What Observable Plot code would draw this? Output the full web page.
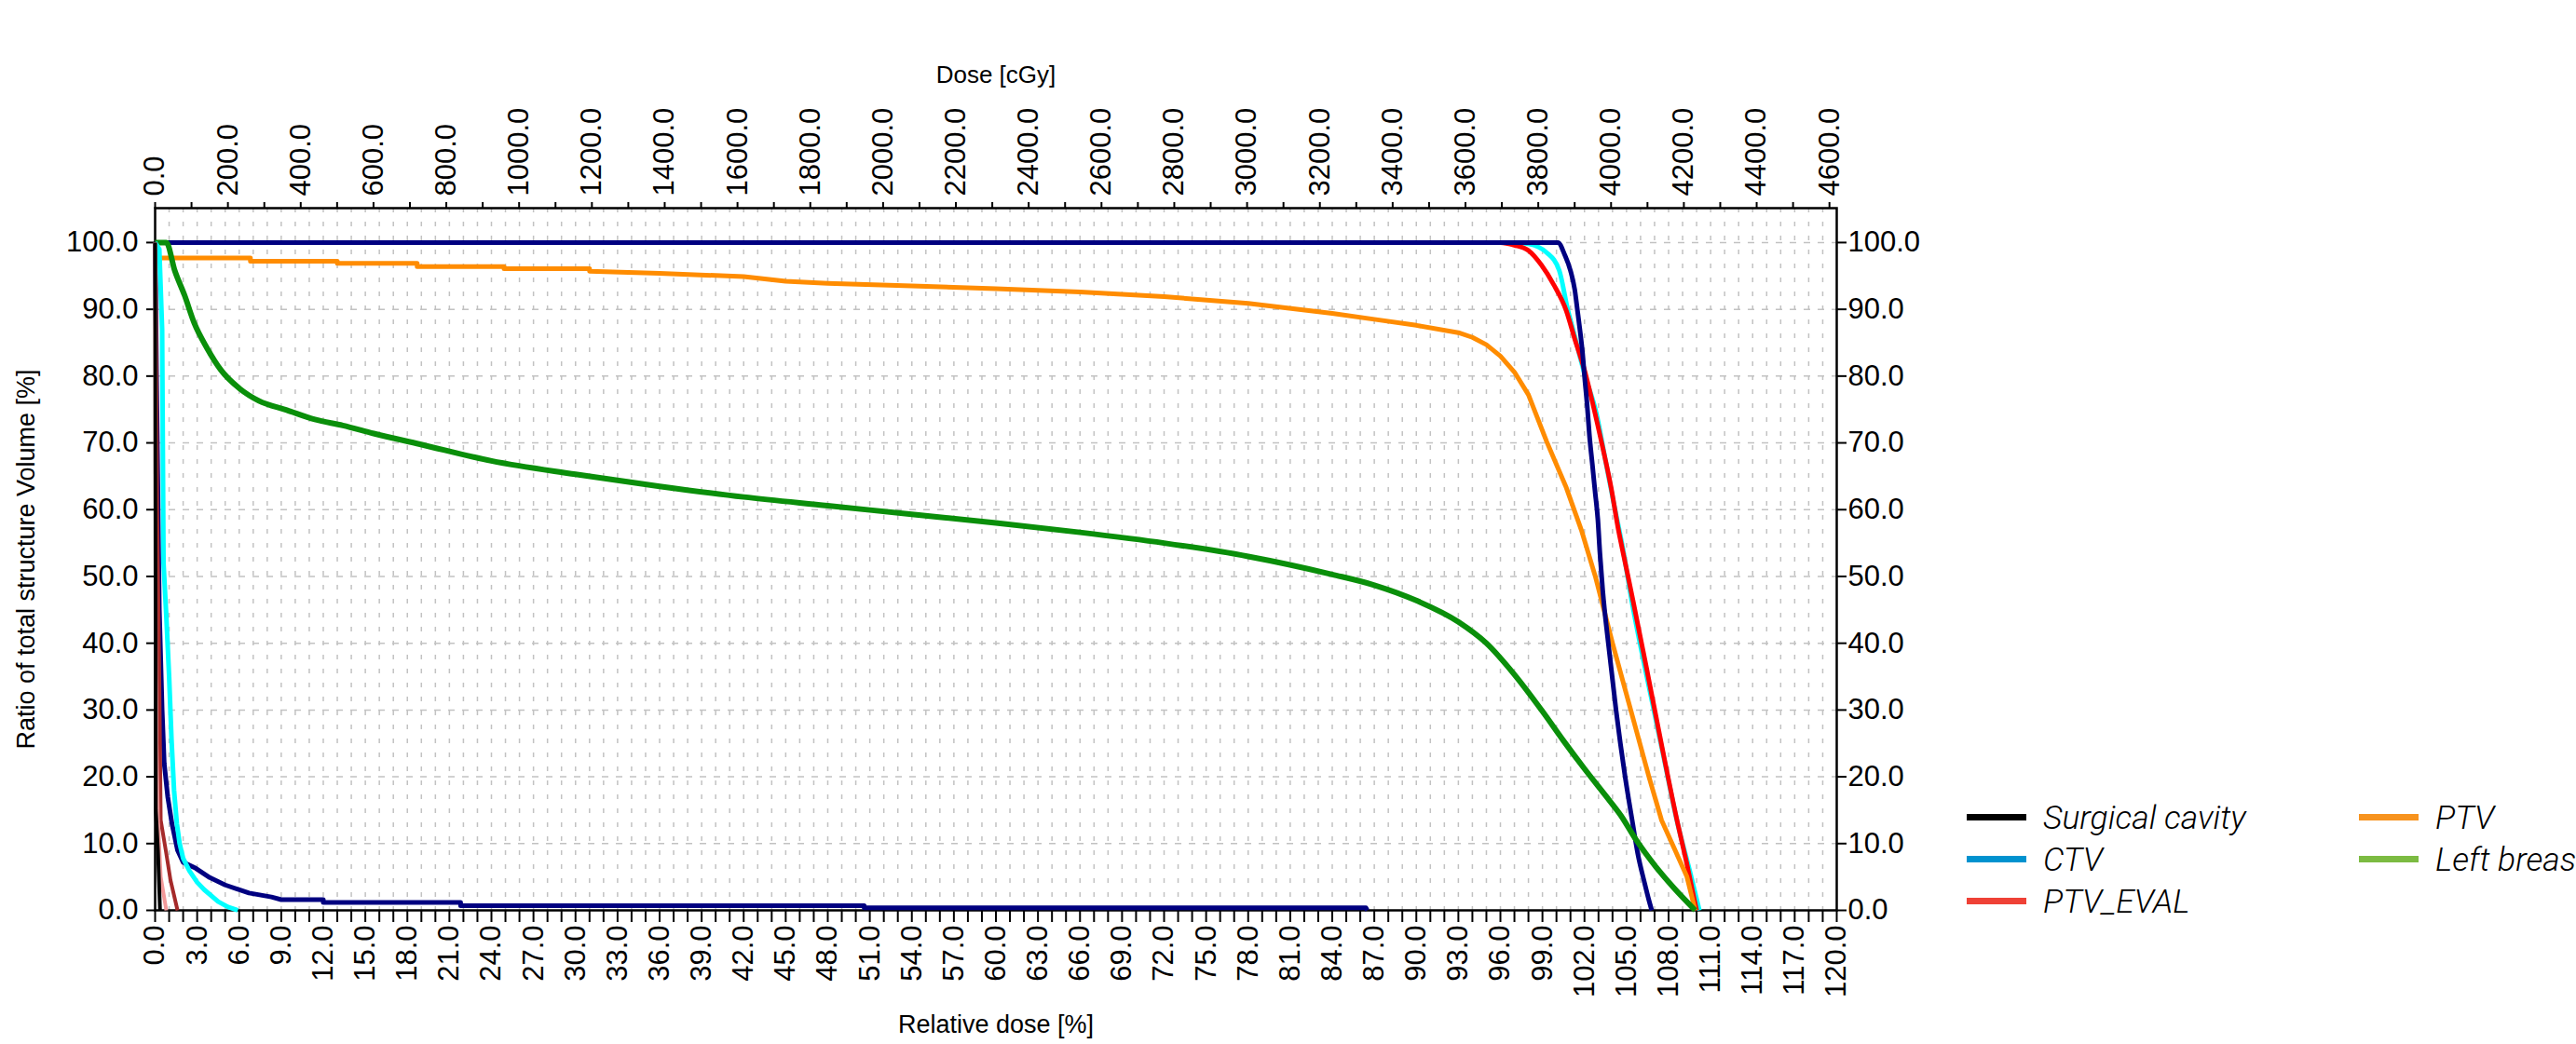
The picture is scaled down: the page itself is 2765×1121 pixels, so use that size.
<!DOCTYPE html>
<html>
<head>
<meta charset="utf-8">
<script src="https://cdn.jsdelivr.net/npm/d3@7"></script>
<script src="https://cdn.jsdelivr.net/npm/@observablehq/plot@0.6"></script>
<style>
  html, body { margin: 0; padding: 0; background: #ffffff; }
  #page { position: relative; width: 2765px; height: 1121px; overflow: hidden; background: #fff; }
  #chart { position: absolute; left: 0; top: 0; }
  #legend {
    position: absolute; left: 2111px; top: 855px;
    display: grid; grid-auto-flow: column;
    grid-template-rows: repeat(3, 45px); grid-template-columns: 421px 400px;
    font-family: "Roboto", "Liberation Sans", Arial, sans-serif;
    font-style: italic; font-weight: 300; font-size: 35.5px; color: #000;
    white-space: nowrap;
  }
  .item { display: flex; align-items: center; height: 45px; }
  .swatch { width: 64px; height: 7px; margin-right: 18px; flex: none; }
</style>
</head>
<body>
<div id="page">
  <div id="chart"></div>
  <div id="legend"></div>
</div>
<script>
// ---------------- data (relative dose [%] vs ratio of structure volume [%]) ----------------
const surgicalCavityDose = [0, 100.1, 100.6, 101.0, 101.3, 101.5, 101.7, 101.85, 102.0, 102.2, 102.35, 102.55, 102.75, 102.95, 103.1, 103.3, 103.7, 104.25, 104.9, 105.4, 105.8, 106.3, 106.6, 106.8];
const surgicalCavityVolume = [100, 100, 98.1, 95.8, 93.0, 89.8, 86.5, 83.7, 80.0, 75.4, 71.2, 67.0, 62.8, 58.6, 53.5, 47.9, 40, 30, 20, 13.5, 8.5, 4, 1.5, 0];

const ctvDose = [0, 97.0, 98.0, 99.3, 100.2, 100.8, 101.35, 102.05, 102.85, 103.45, 104.05, 104.75, 105.4, 106.4, 107.5, 108.7, 109.5, 110.2];
const ctvVolume = [100, 100, 99.8, 98.5, 95.8, 90.0, 85.6, 80.0, 74.4, 67.9, 61.4, 54.0, 46.0, 35.5, 24.5, 12.5, 6.0, 0];

const ptvEvalDose = [0, 96.0, 97.0, 98.0, 98.9, 99.8, 100.7, 101.3, 102.0, 102.6, 103.3, 103.9, 104.4, 104.9, 105.5, 106.5, 107.5, 108.6, 109.3, 110.0];
const ptvEvalVolume = [100, 100, 99.6, 98.8, 96.7, 93.7, 89.8, 85.6, 80.9, 75.8, 69.3, 63.3, 57.2, 52.1, 46.0, 35.5, 24.8, 13.5, 7.0, 0];

const ptvDose = [0, 0.3, 6.8, 6.8, 13.0, 13.0, 18.7, 18.7, 24.9, 24.9, 31.0, 31.0, 36, 42, 45, 48, 54, 60, 66, 72, 78, 84, 87, 90, 93, 94, 95, 96, 97, 98.0, 99.3, 100.7, 101.8, 102.8, 104.0, 105.3, 106.6, 107.5, 108.4, 109.3, 109.9];
const ptvVolume = [100, 97.7, 97.7, 97.2, 97.2, 96.9, 96.9, 96.4, 96.4, 96.1, 96.1, 95.7, 95.4, 94.9, 94.2, 93.9, 93.5, 93.1, 92.6, 91.9, 90.9, 89.4, 88.5, 87.6, 86.5, 85.8, 84.7, 83.0, 80.6, 77.2, 70.2, 63.3, 56.8, 49.8, 40, 30, 20, 13.5, 9.3, 5.1, 0];

const leftBreastDose = [0, 0.8, 1.4, 2.1, 2.8, 3.7, 4.7, 6.05, 7.4, 9.4, 11.4, 13.4, 15.6, 18.9, 24, 30, 36, 42, 48, 54, 60, 66, 72, 78, 84, 87, 90, 93, 95, 97, 99, 100.5, 102, 103.5, 104.6, 105.7, 107.1, 108.4, 109.9];
const leftBreastVolume = [100, 100, 95.8, 92.1, 87.9, 84.2, 80.9, 78.1, 76.3, 74.9, 73.5, 72.6, 71.4, 69.8, 67.3, 65.3, 63.5, 61.9, 60.6, 59.3, 58.0, 56.6, 55.0, 53.0, 50.3, 48.7, 46.4, 43.2, 40.0, 35.3, 29.8, 25.4, 21.2, 17.2, 14.2, 10.5, 6.5, 3.3, 0];

// low-dose structures drawn in the chart but not named in the legend
const lowNavyDose = [0, 0.1, 0.3, 0.5, 0.65, 0.9, 1.2, 1.6, 2.0, 2.9, 3.9, 5.0, 6.7, 8.3, 9.0, 12.0, 12.0, 21.8, 21.8, 50.6, 50.6, 86.4, 86.5];
const lowNavyVolume = [100, 80, 45, 30, 22, 17, 13, 9, 7.2, 6.3, 4.9, 3.8, 2.6, 2.0, 1.6, 1.6, 1.2, 1.2, 0.7, 0.7, 0.4, 0.4, 0];

const lowCyanDose = [0, 0.3, 0.5, 0.6, 0.8, 1.0, 1.17, 1.35, 1.55, 1.75, 2.0, 2.45, 3.0, 3.5, 4.5, 5.2, 5.9];
const lowCyanVolume = [100, 99, 87, 52, 44, 35, 25.6, 18, 13, 10, 7.8, 5.9, 4.2, 3.1, 1.3, 0.5, 0];

const lowBrownDose = [0, 0.05, 0.15, 0.3, 0.4, 0.76, 1.1, 1.6];
const lowBrownVolume = [100, 93, 60, 35, 13.5, 9, 4.5, 0];

const lowPinkDose = [0, 0.05, 0.1, 0.2, 0.4, 0.8];
const lowPinkVolume = [100, 40, 25, 13.5, 5, 0];

const lowBlackDose = [0, 0.05, 0.2, 0.3, 0.35];
const lowBlackVolume = [100, 15, 9, 3, 0];

// axes
const relDoseTicks = d3.range(0, 121, 1);          // minor ticks every 1 %
const relDoseLabelStep = 3;                         // labels every 3 %
const doseCGyTicks = d3.range(0, 4601, 100);        // top axis ticks every 100 cGy
const doseCGyLabelStep = 200;
const cGyAt120 = 4620;                              // top axis: 120 % == 4620 cGy
const volumeTicks = d3.range(0, 101, 10);
const gridX = d3.range(1, 120, 1);
const gridY = d3.range(10, 101, 10);

const legendNames = ["Surgical cavity", "CTV", "PTV_EVAL", "PTV", "Left breast"];
const legendColors = ["#000000", "#0092cf", "#ef4136", "#f7931e", "#7cbb42"];

// ---------------- build ----------------
const series = (name, dose, vol) => dose.map((d, i) => ({structure: name, dose: d, volume: vol[i]}));

const lineSpecs = [
  {name: "CTV", dose: ctvDose, vol: ctvVolume, color: "#00ffff", w: 5, curve: "monotone-x"},
  {name: "PTV_EVAL", dose: ptvEvalDose, vol: ptvEvalVolume, color: "#ff0000", w: 5, curve: "monotone-x"},
  {name: "PTV", dose: ptvDose, vol: ptvVolume, color: "#ff8c00", w: 5, curve: "linear"},
  {name: "Surgical cavity", dose: surgicalCavityDose, vol: surgicalCavityVolume, color: "#000080", w: 5, curve: "monotone-x"},
  {name: "Left breast", dose: leftBreastDose, vol: leftBreastVolume, color: "#0a8f0a", w: 6, curve: "monotone-x"},
  {name: "low navy", dose: lowNavyDose, vol: lowNavyVolume, color: "#000080", w: 5, curve: "linear"},
  {name: "low cyan", dose: lowCyanDose, vol: lowCyanVolume, color: "#00ffff", w: 5, curve: "linear"},
  {name: "low brown", dose: lowBrownDose, vol: lowBrownVolume, color: "#a52a2a", w: 4, curve: "linear"},
  {name: "low pink", dose: lowPinkDose, vol: lowPinkVolume, color: "#f29a9a", w: 4, curve: "linear"},
  {name: "low black", dose: lowBlackDose, vol: lowBlackVolume, color: "#000000", w: 4, curve: "linear"}
];

const font = "'Liberation Sans', Arial, Helvetica, sans-serif";
const toPct = c => c * 120 / cGyAt120;

const chart = Plot.plot({
  width: 2765,
  height: 1121,
  marginLeft: 166,
  marginRight: 794,
  marginTop: 223,
  marginBottom: 144,
  style: {fontFamily: font, fontSize: "31px", color: "#000", background: "transparent"},
  x: {domain: [0, 120], label: null},
  y: {domain: [0, 105.15], label: null},
  marks: [
    Plot.ruleX(gridX, {stroke: "#c2c2c2", strokeWidth: 1.5, strokeDasharray: "5,10"}),
    Plot.ruleY(gridY, {stroke: "#c2c2c2", strokeWidth: 1.5, strokeDasharray: "7,8"}),
    Plot.frame({stroke: "#000", strokeWidth: 2.5}),
    // bottom axis: relative dose
    Plot.axisX(relDoseTicks, {
      anchor: "bottom", tickSize: 13, tickPadding: 3, tickRotate: -90, strokeWidth: 2,
      fontSize: 31, label: null,
      tickFormat: d => (d % relDoseLabelStep === 0 ? d.toFixed(1) : "")
    }),
    // top axis: dose in cGy
    Plot.axisX(doseCGyTicks.map(toPct), {
      anchor: "top", tickSize: 7, tickPadding: 6, tickRotate: -90, strokeWidth: 2,
      fontSize: 31, label: null,
      tickFormat: d => {
        const c = Math.round(d * cGyAt120 / 120);
        return c % doseCGyLabelStep === 0 ? c.toFixed(1) : "";
      }
    }),
    Plot.axisY(volumeTicks, {anchor: "left", tickSize: 9, tickPadding: 9, strokeWidth: 2, fontSize: 31, label: null, tickFormat: d => d.toFixed(1)}),
    Plot.axisY(volumeTicks, {anchor: "right", tickSize: 10, tickPadding: 2, strokeWidth: 2, fontSize: 31, label: null, tickFormat: d => d.toFixed(1)}),
    ...lineSpecs.map(s => Plot.line(series(s.name, s.dose, s.vol), {
      x: "dose", y: "volume", stroke: s.color, strokeWidth: s.w, curve: s.curve,
      strokeLinejoin: "round", strokeLinecap: "butt"
    })),
    Plot.text(["Relative dose [%]"], {frameAnchor: "bottom", dy: 123, text: d => d, fontSize: 27, textAnchor: "middle", lineAnchor: "middle"}),
    Plot.text(["Dose [cGy]"], {frameAnchor: "top", dy: -143, text: d => d, fontSize: 26, textAnchor: "middle", lineAnchor: "middle"}),
    Plot.text(["Ratio of total structure Volume [%]"], {frameAnchor: "left", dx: -138, rotate: -90, text: d => d, fontSize: 27, textAnchor: "middle", lineAnchor: "middle"})
  ]
});
document.getElementById("chart").appendChild(chart);

const legend = document.getElementById("legend");
legendNames.forEach((name, i) => {
  const item = document.createElement("div");
  item.className = "item";
  const sw = document.createElement("span");
  sw.className = "swatch";
  sw.style.background = legendColors[i];
  const label = document.createElement("span");
  label.textContent = name;
  item.appendChild(sw);
  item.appendChild(label);
  legend.appendChild(item);
});
</script>
</body>
</html>
